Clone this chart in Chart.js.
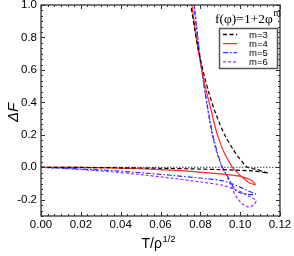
<!DOCTYPE html>
<html>
<head>
<meta charset="utf-8">
<script src="https://cdn.jsdelivr.net/npm/chart.js@4.4.1/dist/chart.umd.min.js"></script>
<style>
  html, body { margin: 0; padding: 0; background: #fff; }
  #wrap { width: 294px; height: 256px; }
</style>
</head>
<body>
<div id="wrap"><canvas id="c" width="294" height="256"></canvas></div>
<script>
// tick labels
var xTicks = [0, 0.02, 0.04, 0.06, 0.08, 0.10, 0.12];
var yTicks = [-0.2, 0, 0.2, 0.4, 0.6, 0.8, 1.0];
var seriesNames = ['m=3', 'm=4', 'm=5', 'm=6'];

// each curve: lower branch from origin to the cusp, then back up the upper branch
var m3T = [0, 0.02, 0.04, 0.06, 0.08, 0.09, 0.1, 0.106, 0.110, 0.114, 0.1115, 0.1083, 0.1036, 0.0996, 0.0967, 0.0923, 0.09, 0.0871, 0.0845, 0.0821, 0.0791, 0.0772, 0.0752];
var m3F = [0, -0.001, -0.003, -0.006, -0.011, -0.014, -0.019, -0.022, -0.028, -0.036, -0.026, -0.013, 0, 0.056, 0.105, 0.198, 0.26, 0.352, 0.45, 0.557, 0.72, 0.85, 1.0];

var m4T = [0, 0.02, 0.035, 0.05, 0.065, 0.075, 0.087, 0.095, 0.1006, 0.1043, 0.1065, 0.1076, 0.1062, 0.1043, 0.1006, 0.098, 0.0961, 0.094, 0.0914, 0.0886, 0.087, 0.0854, 0.0824, 0.0798, 0.0776, 0.0758];
var m4F = [0, -0.001, -0.004, -0.009, -0.017, -0.025, -0.037, -0.047, -0.057, -0.072, -0.087, -0.107, -0.103, -0.093, -0.057, -0.025, 0, 0.043, 0.105, 0.198, 0.27, 0.352, 0.5, 0.66, 0.83, 1.0];

var m5T = [0, 0.016, 0.033, 0.05, 0.065, 0.08, 0.09, 0.095, 0.1, 0.104, 0.1078, 0.1055, 0.1035, 0.1, 0.0976, 0.0953, 0.0934, 0.0911, 0.0898, 0.0882, 0.0863, 0.0851, 0.0839, 0.0819, 0.08, 0.0783, 0.0768];
var m5F = [0, -0.008, -0.018, -0.033, -0.049, -0.066, -0.08, -0.097, -0.122, -0.145, -0.166, -0.168, -0.166, -0.157, -0.142, -0.093, -0.049, 0, 0.043, 0.105, 0.198, 0.27, 0.352, 0.5, 0.66, 0.83, 1.0];

var m6T = [0, 0.016, 0.033, 0.05, 0.065, 0.08, 0.091, 0.097, 0.1, 0.104, 0.108, 0.1068, 0.1043, 0.1009, 0.0976, 0.0961, 0.0942, 0.0922, 0.0908, 0.0895, 0.0879, 0.086, 0.0849, 0.0838, 0.0819, 0.0801, 0.0785, 0.077];
var m6F = [0, -0.01, -0.025, -0.045, -0.066, -0.09, -0.11, -0.135, -0.15, -0.175, -0.205, -0.232, -0.245, -0.224, -0.173, -0.13, -0.08, -0.03, 0, 0.043, 0.105, 0.198, 0.27, 0.352, 0.5, 0.66, 0.83, 1.0];

var zeroT = [0, 0.12];
var zeroF = [0, 0];

function pts(T, F) {
  return T.map(function (t, i) { return { x: t, y: F[i] }; });
}

function line(ctx, x1, y1, x2, y2) {
  ctx.beginPath(); ctx.moveTo(x1, y1); ctx.lineTo(x2, y2); ctx.stroke();
}

// box frame with inward major and minor ticks on all four sides
var frame = {
  id: 'frame',
  afterDatasetsDraw: function (chart) {
    var ctx = chart.ctx, a = chart.chartArea, xs = chart.scales.x, ys = chart.scales.y;
    ctx.save();
    ctx.strokeStyle = '#333';
    ctx.lineWidth = 1;
    var xStep = (xTicks[1] - xTicks[0]) / 6;
    for (var j = 0; j <= 36; j++) {
      var px = Math.round(xs.getPixelForValue(xTicks[0] + j * xStep)) + 0.5;
      var len = j % 6 == 0 ? 4 : 2;
      line(ctx, px, a.bottom, px, a.bottom - len);
      line(ctx, px, a.top, px, a.top + len);
    }
    var yStep = (yTicks[1] - yTicks[0]) / 6;
    for (var k = -3; k <= 36; k++) {
      var py = Math.round(ys.getPixelForValue(yTicks[0] + k * yStep)) + 0.5;
      var ln = k % 6 == 0 ? 4 : 2;
      line(ctx, a.left, py, a.left + ln, py);
      line(ctx, a.right, py, a.right - ln, py);
    }
    ctx.lineWidth = 1.3;
    ctx.strokeRect(a.left, a.top, a.right - a.left, a.bottom - a.top);
    ctx.restore();
  },
  afterDraw: function (chart) {
    var ctx = chart.ctx, a = chart.chartArea;
    ctx.save();
    ctx.fillStyle = '#000';
    // y title
    ctx.translate(14, (a.top + a.bottom) / 2 + 2);
    ctx.rotate(-Math.PI / 2);
    ctx.font = 'italic 15px "Liberation Sans"';
    ctx.textAlign = 'center';
    ctx.textBaseline = 'middle';
    ctx.fillText('\u0394F', 0, 0);
    ctx.restore();

    // x title with superscript
    ctx.save();
    ctx.fillStyle = '#000';
    ctx.textBaseline = 'alphabetic';
    ctx.textAlign = 'left';
    ctx.font = '14px "Liberation Sans"';
    var w = ctx.measureText('T/\u03c1').width;
    ctx.fillText('T/\u03c1', 141.5, 248);
    ctx.font = '9.5px "Liberation Sans"';
    ctx.fillText('1/2', 141.5 + w + 0.5, 241.5);

    // legend
    var bx = 219.5, by = 28.5, bw = 58, bh = 40;
    ctx.fillStyle = '#fff';
    ctx.fillRect(bx, by, bw, bh);
    ctx.strokeStyle = '#555';
    ctx.lineWidth = 1.5;
    ctx.strokeRect(bx, by, bw, bh);
    var ds = chart.data.datasets;
    for (var i = 0; i < seriesNames.length; i++) {
      var y = 34.5 + i * 9.1;
      ctx.strokeStyle = ds[i].borderColor;
      ctx.lineWidth = 1.3;
      ctx.setLineDash(ds[i].borderDash || []);
      line(ctx, 223, y, 237, y);
      ctx.setLineDash([]);
      ctx.fillStyle = '#000';
      ctx.font = '9.5px "Liberation Sans"';
      ctx.textBaseline = 'middle';
      ctx.fillText(seriesNames[i], 249, y + 0.5);
    }

    // formula label
    ctx.fillStyle = '#000';
    ctx.textBaseline = 'alphabetic';
    ctx.font = '13.5px "Liberation Serif"';
    var fw = ctx.measureText('f(\u03c6)=1+2\u03c6').width;
    ctx.fillText('f(\u03c6)=1+2\u03c6', 215, 22.5);
    ctx.font = '10px "Liberation Serif"';
    ctx.fillText('m', 215 + fw + 0.5, 16);
    ctx.restore();
  }
};

var style = { pointRadius: 0, borderWidth: 1.2, fill: false, showLine: true, tension: 0.2 };

new Chart(document.getElementById('c').getContext('2d'), {
  type: 'scatter',
  data: {
    datasets: [
      Object.assign({ label: seriesNames[0], data: pts(m3T, m3F), borderColor: '#000000', borderDash: [4, 2.5] }, style),
      Object.assign({ label: seriesNames[1], data: pts(m4T, m4F), borderColor: '#ff2a2a' }, style),
      Object.assign({ label: seriesNames[2], data: pts(m5T, m5F), borderColor: '#2233ff', borderDash: [5, 2, 1.5, 2] }, style),
      Object.assign({ label: seriesNames[3], data: pts(m6T, m6F), borderColor: '#9933ff', borderDash: [3, 2] }, style),
      { label: 'zero', data: pts(zeroT, zeroF), borderColor: '#333', borderWidth: 0.9, borderDash: [1.5, 1.5], pointRadius: 0, showLine: true }
    ]
  },
  options: {
    responsive: false,
    animation: false,
    events: [],
    layout: { padding: { top: 5, right: 14, left: 0, bottom: 0 } },
    plugins: { legend: { display: false }, tooltip: { enabled: false } },
    scales: {
      x: {
        type: 'linear', min: 0, max: 0.12,
        afterBuildTicks: function (s) { s.ticks = xTicks.map(function (v) { return { value: v }; }); },
        afterFit: function (s) { s.height = 40; s.paddingLeft = 0; s.paddingRight = 0; },
        grid: { display: false, drawTicks: false },
        border: { display: false },
        ticks: {
          padding: 2, color: '#000', maxRotation: 0,
          font: { family: 'Liberation Sans', size: 11.5 },
          callback: function (v) { return Number(v).toFixed(2); }
        }
      },
      y: {
        type: 'linear', min: -0.3, max: 1.0,
        afterBuildTicks: function (s) { s.ticks = yTicks.map(function (v) { return { value: v }; }); },
        afterFit: function (s) { s.width = 41; s.paddingTop = 0; s.paddingBottom = 0; },
        grid: { display: false, drawTicks: false },
        border: { display: false },
        ticks: {
          padding: 4, color: '#000',
          font: { family: 'Liberation Sans', size: 11.5 },
          callback: function (v) { return Number(v).toFixed(1); }
        }
      }
    }
  },
  plugins: [frame]
});
</script>
</body>
</html>
